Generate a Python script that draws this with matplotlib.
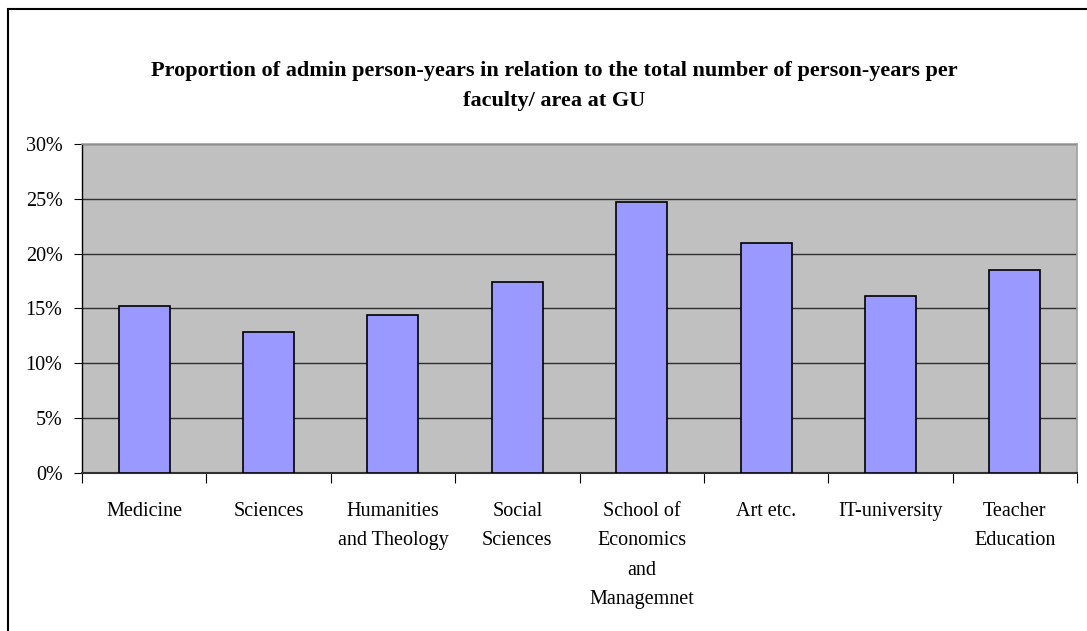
import matplotlib
matplotlib.use("Agg")
import matplotlib.pyplot as plt
from matplotlib.patches import Rectangle
from matplotlib.ticker import FixedLocator, PercentFormatter

categories = ["Medicine", "Sciences", "Humanities\nand Theology", "Social\nSciences",
              "School of\nEconomics\nand\nManagemnet", "Art etc.", "IT-university",
              "Teacher\nEducation"]
values = [15.2, 12.8, 14.4, 17.4, 24.7, 21.0, 16.1, 18.5]
yticks = [0, 5, 10, 15, 20, 25, 30]
title = ("Proportion of admin person-years in relation to the total number of person-years per\n"
         "faculty/ area at GU")

plt.rcParams['font.family'] = ['Liberation Serif', 'DejaVu Serif']

W, H = 1087, 631
fig = plt.figure(figsize=(W / 100, H / 100), dpi=100)
fig.patch.set_facecolor('white')

# outer frame
fig.add_artist(Rectangle((8 / W, -0.05), 1.2, (H - 9) / H + 0.05, transform=fig.transFigure,
                         fill=False, edgecolor='black', linewidth=1.5))

ax = fig.add_axes([82 / W, (H - 472.7) / H, (1077 - 82) / W, (472.7 - 144) / H])
ax.set_facecolor('#c0c0c0')

x = list(range(len(categories)))
ax.bar(x, values, width=0.41, color='#9999ff', edgecolor='black', linewidth=1.2, zorder=3)

ax.set_xlim(-0.5, len(categories) - 0.5)
ax.set_ylim(0, 30)
ax.yaxis.set_major_locator(FixedLocator(yticks))
ax.yaxis.set_major_formatter(PercentFormatter(decimals=0))
ax.grid(axis='y', color='#303030', linewidth=1.0, zorder=1)
ax.set_axisbelow(True)

ax.set_xticks(x)
ax.set_xticklabels(categories, fontsize=14.5, linespacing=1.74, va='top')
ax.tick_params(axis='x', which='major', length=0, pad=21)
ax.set_xticks([i - 0.5 for i in range(len(categories) + 1)], minor=True)
ax.tick_params(axis='x', which='minor', length=7, width=0.8, direction='out', color='black')
ax.tick_params(axis='y', length=6, width=0.8, direction='out', labelsize=14.5, pad=8)

for s in ['top', 'right']:
    ax.spines[s].set_color('#a0a0a0')
    ax.spines[s].set_linewidth(1.2)
ax.spines['left'].set_color('black')
ax.spines['left'].set_linewidth(1.0)
ax.spines['bottom'].set_color('#303030')
ax.spines['bottom'].set_linewidth(1.5)

fig.text(554 / W, 1 - 86 / H, title, ha='center', va='center', fontsize=16,
         fontweight='bold', linespacing=1.7)

fig.savefig('out.png', dpi=100)
